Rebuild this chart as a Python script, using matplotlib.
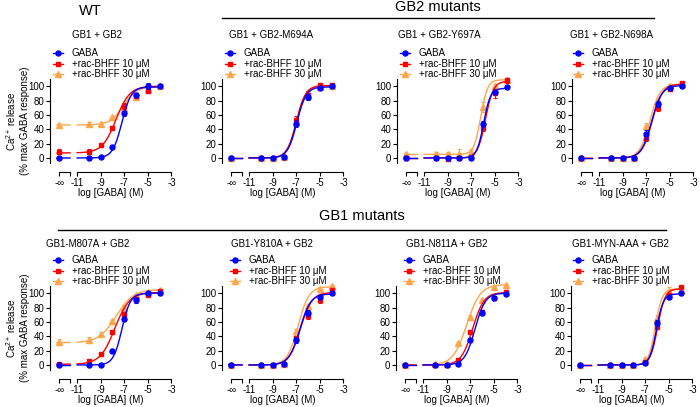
import numpy as np
import matplotlib
matplotlib.use("Agg")
import matplotlib.pyplot as plt
from matplotlib.lines import Line2D
from matplotlib.spines import Spine

plt.rcParams['font.family'] = ['Liberation Sans', 'DejaVu Sans']
plt.rcParams['mathtext.fontset'] = 'custom'
plt.rcParams['mathtext.rm'] = 'Liberation Sans'
plt.rcParams['mathtext.it'] = 'Liberation Sans'

# ---------------- data ----------------
LOG_GABA = [-np.inf, -10, -9, -8, -7, -6, -5, -4]
SERIES = ['GABA', '+rac-BHFF 10 μM', '+rac-BHFF 30 μM']
TITLES = ['GB1 + GB2', 'GB1 + GB2-M694A', 'GB1 + GB2-Y697A', 'GB1 + GB2-N698A',
          'GB1-M807A + GB2', 'GB1-Y810A + GB2', 'GB1-N811A + GB2', 'GB1-MYN-AAA + GB2']
X_TICKS = [-12.5, -11.6, -11, -9, -7, -5, -3]
X_TICKLABELS = ['-∞', '', '-11', '-9', '-7', '-5', '-3']
Y_TICKS = [0, 20, 40, 60, 80, 100]

# mean responses (GABA, 10 uM, 30 uM)
WT_MEAN = [[0, 0, 1, 15, 62, 88, 100, 100],
           [9, 9, 18, 42, 72, 87, 93, 100],
           [46, 47, 47, 57, 69, 85, 96, 100]]
M694A_MEAN = [[0, 0, 0, 2, 48, 85, 98, 100],
              [0, 0, 0, 2, 53, 88, 101, 101],
              [0, 0, 0, 2, 50, 86, 99, 100]]
Y697A_MEAN = [[0, 0, 0, 0, 0, 48, 92, 99],
              [0, 0, -1, 0, 1, 42, 90, 108],
              [5, 5, 5, 5, 9, 71, 100, 108]]
N698A_MEAN = [[0, 0, 0, 0, 33, 75, 98, 100],
              [0, 0, 0, 0, 28, 70, 96, 104],
              [0, 0, 0, 0, 45, 80, 100, 103]]
M807A_MEAN = [[0, 0, 0, 20, 64, 90, 100, 100],
              [2, 5, 15, 46, 71, 92, 98, 103],
              [32, 35, 43, 61, 80, 97, 102, 104]]
Y810A_MEAN = [[0, 0, 0, 2, 35, 72, 95, 100],
              [0, 0, 0, 2, 37, 68, 90, 104],
              [0, 0, 0, 2, 47, 82, 106, 110]]
N811A_MEAN = [[0, 0, 0, 1, 35, 73, 93, 99],
              [0, 0, 0, 7, 46, 74, 93, 102],
              [0, 1, 1, 30, 67, 90, 108, 111]]
MYN_MEAN = [[0, 0, 0, 0, 3, 58, 94, 100],
            [0, 0, 0, 0, 4, 53, 97, 108],
            [0, 0, 0, 0, 8, 65, 103, 105]]

# SEM
WT_ERR = [[2, 1, 1, 2, 3, 3, 4, 2], [4, 3, 2, 2, 4, 3, 3, 2], [2, 3, 3, 2, 3, 3, 2, 2]]
M694A_ERR = [[1, 1, 1, 2, 5, 4, 2, 2], [1, 1, 1, 2, 5, 5, 2, 2], [1, 1, 1, 1, 3, 3, 2, 2]]
Y697A_ERR = [[1, 1, 1, 1, 1, 4, 3, 2], [1, 1, 1, 1, 2, 4, 6, 3], [2, 3, 3, 8, 4, 7, 3, 2]]
N698A_ERR = [[1, 1, 1, 1, 6, 4, 2, 2], [1, 1, 1, 1, 4, 4, 2, 2], [1, 1, 1, 1, 4, 4, 3, 2]]
M807A_ERR = [[1, 1, 1, 2, 3, 3, 2, 2], [1, 2, 2, 3, 3, 3, 2, 2], [4, 4, 2, 2, 3, 2, 2, 2]]
Y810A_ERR = [[1, 1, 1, 1, 4, 4, 3, 2], [1, 1, 1, 1, 3, 4, 4, 3], [1, 1, 1, 1, 3, 3, 2, 2]]
N811A_ERR = [[1, 1, 1, 1, 2, 3, 2, 2], [1, 1, 1, 2, 3, 3, 2, 2], [1, 1, 1, 2, 2, 2, 2, 2]]
MYN_ERR = [[1, 1, 1, 1, 1, 4, 2, 2], [1, 1, 1, 1, 1, 3, 2, 2], [1, 1, 1, 1, 2, 5, 5, 2]]

# fitted 4-parameter logistic (bottom, top, logEC50, hill)
WT_FIT = [(0, 99, -7.2, 1.1), (7, 100, -7.7, 0.75), (46, 99, -7.1, 0.8)]
M694A_FIT = [(0, 99, -6.95, 1.1), (0, 101, -7.0, 1.1), (0, 100, -6.95, 1.1)]
Y697A_FIT = [(0, 97, -5.95, 1.5), (0, 107, -5.8, 1.3), (5, 109, -6.2, 1.5)]
N698A_FIT = [(0, 101, -6.55, 1.0), (0, 103, -6.5, 1.0), (0, 103, -6.7, 1.0)]
M807A_FIT = [(0, 100, -7.2, 1.2), (1, 101, -7.8, 0.7), (31, 105, -7.7, 0.6)]
Y810A_FIT = [(0, 99, -6.7, 0.95), (0, 101, -6.65, 0.9), (0, 109, -6.85, 0.95)]
N811A_FIT = [(0, 100, -6.6, 1.0), (0, 101, -6.8, 0.9), (0, 112, -7.3, 0.75)]
MYN_FIT = [(0, 99, -6.05, 1.5), (0, 106, -5.95, 1.4), (0, 106, -6.15, 1.5)]

MEANS = [WT_MEAN, M694A_MEAN, Y697A_MEAN, N698A_MEAN, M807A_MEAN, Y810A_MEAN, N811A_MEAN, MYN_MEAN]
ERRS = [WT_ERR, M694A_ERR, Y697A_ERR, N698A_ERR, M807A_ERR, Y810A_ERR, N811A_ERR, MYN_ERR]
FITS = [WT_FIT, M694A_FIT, Y697A_FIT, N698A_FIT, M807A_FIT, Y810A_FIT, N811A_FIT, MYN_FIT]

# ---------------- style / layout ----------------
COLORS = ['#0000FF', '#FF0000', '#FFA64D']
MARKERS = ['o', 's', '^']
MSIZES = [3.6, 3.4, 3.8]
ZORD = [5, 4, 3]
NEG_INF_POS = -12.5
W, H = 700, 407
AX_X = [50, 222, 397, 572, 50, 222, 396, 571]      # y-axis pixel x
AX_BOTTOM = [163, 163, 163, 163, 370, 370, 370, 370]  # pixel y of axes bottom
AX_W, AX_H = 122, 84
TITLE_X = [97, 271, 439, 612, 88, 272, 447, 620]
TITLE_Y = [35, 35, 35, 35, 244, 244, 244, 244]
LEG_DX = [3, 3, 3, 1, 3, 8, 8, 2]
FS = 7

fig = plt.figure(figsize=(W / 100, H / 100), dpi=100)

def hill(x, b, t, ec, h):
    return b + (t - b) / (1 + 10 ** ((ec - x) * h))

xpos = np.array([NEG_INF_POS if np.isinf(v) else v for v in LOG_GABA])

for i in range(8):
    left = AX_X[i] / W
    bottom = 1 - AX_BOTTOM[i] / H
    ax = fig.add_axes([left, bottom, AX_W / W, AX_H / H])
    ax.set_xlim(-13.3, -2.95)
    ax.set_ylim(-7, 110)
    for s in range(3)[::-1]:
        b, t, ec, h = FITS[i][s]
        xs1 = np.linspace(-12.7, -11.6, 20)
        xs2 = np.linspace(-11, -4, 200)
        for xs in (xs1, xs2):
            ax.plot(xs, hill(xs, b, t, ec, h), color=COLORS[s], lw=1.0,
                    zorder=ZORD[s], clip_on=False)
        ax.errorbar(xpos, MEANS[i][s], yerr=ERRS[i][s], fmt='none',
                    ecolor=COLORS[s], elinewidth=0.8, capsize=1.5, capthick=0.8,
                    zorder=ZORD[s], clip_on=False)
        ax.plot(xpos, MEANS[i][s], linestyle='none', marker=MARKERS[s],
                ms=MSIZES[s], color=COLORS[s], mec=COLORS[s], zorder=ZORD[s] + 0.5,
                clip_on=False)
    for sp in ('top', 'right'):
        ax.spines[sp].set_visible(False)
    ax.spines['left'].set_linewidth(0.8)
    ax.spines['bottom'].set_linewidth(0.8)
    ax.spines['bottom'].set_position(('outward', 6.5))
    ax.spines['bottom'].set_bounds(-11, -3)
    brk = Spine.linear_spine(ax, 'bottom')
    ax.spines['bottom_break'] = brk
    brk.set_bounds(NEG_INF_POS, -11.6)
    brk.set_position(('outward', 6.5))
    brk.set_linewidth(0.8)
    ax.set_xticks(X_TICKS)
    ax.set_xticklabels(X_TICKLABELS)
    ax.set_yticks(Y_TICKS)
    ax.tick_params(axis='both', labelsize=FS, length=3, width=0.8, pad=1.2)
    ax.set_xlabel('log [GABA] (M)', fontsize=FS, labelpad=0)
    if i in (0, 4):
        ax.set_ylabel('Ca$^{2+}$ release\n(% max GABA response)', fontsize=FS,
                      linespacing=1.2)
        ax.yaxis.set_label_coords(-0.168, 0.5)
    handles = [Line2D([], [], color=COLORS[s], marker=MARKERS[s], ms=MSIZES[s],
                      lw=1.0) for s in range(3)]
    ax.legend(handles, SERIES, loc='lower left',
              bbox_to_anchor=(LEG_DX[i] / AX_W, 0.995), frameon=False, fontsize=FS,
              handlelength=1.05, handletextpad=0.9, labelspacing=0.05,
              borderpad=0, borderaxespad=0)
    fig.text(TITLE_X[i] / W, 1 - TITLE_Y[i] / H, TITLES[i], fontsize=FS,
             ha='center', va='center')

# group headers
fig.text(90 / W, 1 - 11 / H, 'WT', fontsize=10.5, ha='center', va='center')
fig.text(438 / W, 1 - 7 / H, 'GB2 mutants', fontsize=10.5, ha='center', va='center')
fig.add_artist(Line2D([222 / W, 654 / W], [1 - 18 / H, 1 - 18 / H], color='black', lw=1.0))
fig.text(362 / W, 1 - 216 / H, 'GB1 mutants', fontsize=10.5, ha='center', va='center')
fig.add_artist(Line2D([58 / W, 666 / W], [1 - 230 / H, 1 - 230 / H], color='black', lw=1.0))

fig.savefig('out.png', dpi=100)
